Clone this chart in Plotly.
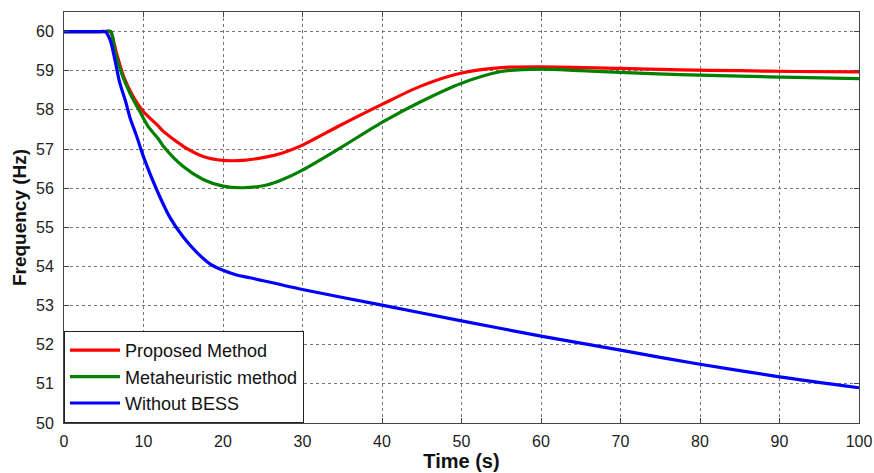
import plotly.graph_objects as go

t_red = [0, 3, 5, 5.8, 6.6, 7.5, 8.7, 10, 11.7, 12.5, 13.75, 15, 17.5, 20, 22.5, 25.5, 27.5, 30, 34.7, 40, 44.8, 50, 55, 60, 70, 77.5, 85, 92, 100]
f_red = [60, 60, 60, 60, 59.45, 58.85, 58.34, 57.95, 57.62, 57.45, 57.25, 57.07, 56.81, 56.71, 56.71, 56.8, 56.9, 57.1, 57.6, 58.14, 58.6, 58.94, 59.08, 59.1, 59.06, 59.02, 59.0, 58.98, 58.97]

t_green = [0, 3, 5.2, 5.9, 6.4, 7.25, 8.3, 9.55, 10.6, 11.9, 12.5, 15, 17.5, 20, 22.5, 25.5, 27.5, 30, 34.7, 40, 44.8, 50, 55, 60, 65, 70, 77.5, 85, 92, 100]
f_green = [60, 60, 60, 60, 59.5, 58.93, 58.42, 57.95, 57.57, 57.25, 57.07, 56.55, 56.22, 56.05, 56.01, 56.08, 56.22, 56.46, 57.02, 57.68, 58.2, 58.68, 58.98, 59.04, 59.0, 58.96, 58.9, 58.86, 58.83, 58.8]

t_blue = [0, 3, 4.6, 5.2, 5.8, 6.4, 7.0, 7.7, 8.3, 9.1, 10, 11.7, 13.3, 15, 16.7, 18.4, 20, 21.7, 23.4, 30, 40, 50, 60, 70, 80, 90, 100]
f_blue = [60, 60, 60, 60, 59.79, 59.28, 58.7, 58.25, 57.8, 57.35, 56.8, 55.94, 55.26, 54.75, 54.36, 54.06, 53.9, 53.78, 53.71, 53.41, 53.01, 52.61, 52.22, 51.86, 51.5, 51.18, 50.9]

x_ticks = [0, 10, 20, 30, 40, 50, 60, 70, 80, 90, 100]
y_ticks = [50, 51, 52, 53, 54, 55, 56, 57, 58, 59, 60]

FONT = "Liberation Sans, Arial, sans-serif"

fig = go.Figure()
fig.add_trace(go.Scatter(x=t_red, y=f_red, mode="lines", name="Proposed Method",
                         line=dict(color="#ff0000", width=3.2, shape="spline", smoothing=0.8)))
fig.add_trace(go.Scatter(x=t_green, y=f_green, mode="lines", name="Metaheuristic method",
                         line=dict(color="#008000", width=3.2, shape="spline", smoothing=0.8)))
fig.add_trace(go.Scatter(x=t_blue, y=f_blue, mode="lines", name="Without BESS",
                         line=dict(color="#0000ff", width=3.2, shape="spline", smoothing=0.8)))

axis_common = dict(showline=True, linecolor="#444444", linewidth=1, mirror="ticks",
                   ticks="inside", ticklen=5, tickcolor="#444444",
                   showgrid=True, gridcolor="#777777", griddash="dot", gridwidth=1,
                   zeroline=False, automargin=False,
                   tickfont=dict(family=FONT, size=16, color="#222"))

fig.update_xaxes(range=[0, 100], tickvals=x_ticks, ticklabelstandoff=4,
                 title=dict(text="<b>Time (s)</b>", font=dict(family=FONT, size=20, color="#111"), standoff=4),
                 **axis_common)
fig.update_yaxes(range=[50, 60.5], tickvals=y_ticks, ticklabelstandoff=6,
                 title=dict(text="<b>Frequency (Hz)</b>", font=dict(family=FONT, size=19, color="#111"), standoff=4),
                 **axis_common)

fig.update_layout(
    width=874, height=473,
    margin=dict(l=64, r=15, t=12, b=50),
    plot_bgcolor="white", paper_bgcolor="white",
    legend=dict(x=0, y=0, xanchor="left", yanchor="bottom",
                bordercolor="#222", borderwidth=1, bgcolor="white",
                font=dict(family=FONT, size=18, color="#111"),
                tracegroupgap=0, itemwidth=50),
)

fig.write_html("out.html")
